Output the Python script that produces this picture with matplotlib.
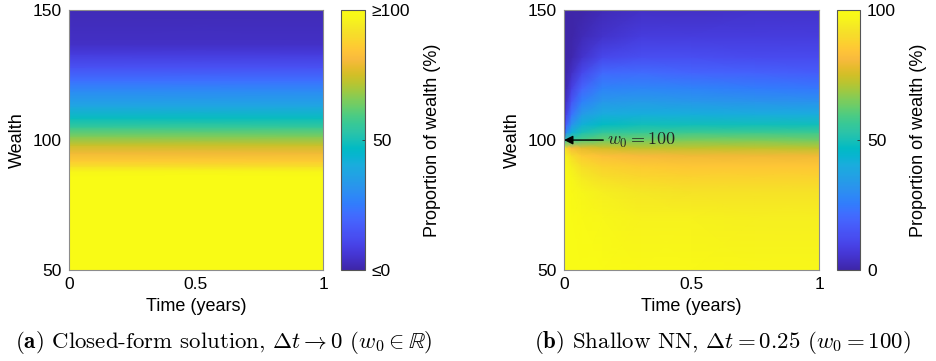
import numpy as np
import matplotlib
matplotlib.use('Agg')
import matplotlib.pyplot as plt
from matplotlib.colors import LinearSegmentedColormap

plt.rcParams['font.family'] = ['Liberation Sans', 'DejaVu Sans']
plt.rcParams['mathtext.fontset'] = 'cm'

# MATLAB parula colormap (subsampled)
parula_rgb = [
    (0.2422, 0.1504, 0.6603), (0.2578, 0.1818, 0.7511), (0.2706, 0.2147, 0.8364),
    (0.2783, 0.2559, 0.8991), (0.2813, 0.3006, 0.9414), (0.2795, 0.3447, 0.9717),
    (0.2699, 0.3892, 0.9906), (0.2440, 0.4358, 0.9988), (0.1963, 0.4847, 0.9892),
    (0.1786, 0.5289, 0.9682), (0.1687, 0.5703, 0.9359), (0.1460, 0.6091, 0.9079),
    (0.1248, 0.6459, 0.8883), (0.0952, 0.6798, 0.8598), (0.0297, 0.7082, 0.8163),
    (0.0067, 0.7312, 0.7660), (0.0964, 0.7500, 0.7120), (0.1717, 0.7670, 0.6554),
    (0.2161, 0.7843, 0.5923), (0.2906, 0.7973, 0.5188), (0.3909, 0.8029, 0.4354),
    (0.5044, 0.7993, 0.3480), (0.6174, 0.7876, 0.2612), (0.7242, 0.7698, 0.1910),
    (0.8203, 0.7498, 0.1535), (0.9035, 0.7330, 0.1774), (0.9728, 0.7298, 0.2394),
    (0.9970, 0.7659, 0.2199), (0.9892, 0.8136, 0.1885), (0.9676, 0.8639, 0.1643),
    (0.9597, 0.9135, 0.1423), (0.9691, 0.9606, 0.1064), (0.9769, 0.9839, 0.0805),
]
parula = LinearSegmentedColormap.from_list('parula', parula_rgb, N=256)

# (a) closed form: proportion depends on wealth only
wealth_a = [50, 86, 88, 90, 92, 95, 98, 101.5, 105, 108.5, 113, 119, 123, 128, 133, 137, 150]
prop_a = [100, 100, 97, 91, 86, 80, 74, 65, 56, 48, 38, 29, 22, 14, 8, 4, 2]
time_a = [0, 1]

# (b) shallow NN: proportion over (wealth, time)
time_b = [0, 0.01, 0.03, 0.07, 0.15, 0.3, 0.5, 0.75, 1.0]
wealth_b = [50, 70, 80, 86, 90, 94, 97, 100, 103, 106, 110, 115, 120, 126, 132, 140, 150]
prop_b = [
    [100, 100, 100, 100, 100, 99, 99, 98, 98],     # 50
    [100, 100, 100, 99, 98, 96, 96, 95, 95],       # 70
    [100, 100, 99, 97, 95, 93, 92, 92, 92],        # 80
    [100, 99, 97, 94, 91, 89, 88, 88, 88],         # 86
    [100, 98, 95, 91, 88, 86, 85, 85, 85],         # 90
    [100, 95, 91, 86, 83, 81, 80, 80, 80],         # 94
    [100, 88, 82, 78, 75, 73, 73, 73, 72],         # 97
    [50, 55, 57, 60, 63, 64, 65, 65, 64],          # 100
    [0, 30, 42, 50, 55, 56, 57, 57, 57],           # 103
    [0, 18, 32, 42, 47, 49, 49, 49, 49],           # 106
    [0, 10, 23, 34, 40, 41, 41, 40, 40],           # 110
    [0, 5, 15, 26, 33, 34, 33, 32, 31],            # 115
    [0, 2, 9, 19, 27, 28, 27, 25, 24],             # 120
    [0, 1, 4, 11, 20, 21, 19, 18, 17],             # 126
    [0, 0, 1, 5, 11, 13, 13, 12, 12],              # 132
    [0, 0, 0, 2, 5, 8, 8, 8, 8],                   # 140
    [0, 0, 0, 0, 2, 4, 4, 5, 5],                   # 150
]

fig = plt.figure(figsize=(9.36, 3.61), dpi=100)

panels = [
    dict(ax=[0.0737, 0.252, 0.2714, 0.720], cax=[0.3643, 0.252, 0.0256, 0.720],
         t=time_a, w=wealth_a, z=np.tile(np.array(prop_a)[:, None], (1, 2)),
         cticks=['\u2264' + '0', '50', '\u2265' + '100'],
         caption=r'$\mathbf{(a)}$ Closed-form solution, $\Delta t \rightarrow 0$ $(w_0 \in \mathbb{R})$',
         cx=224 / 936),
    dict(ax=[0.6026, 0.252, 0.2724, 0.720], cax=[0.8942, 0.252, 0.0246, 0.720],
         t=time_b, w=wealth_b, z=np.array(prop_b, dtype=float),
         cticks=['0', '50', '100'],
         caption=r'$\mathbf{(b)}$ Shallow NN, $\Delta t = 0.25$ $(w_0 = 100)$',
         cx=722 / 936),
]

for i, p in enumerate(panels):
    ax = fig.add_axes(p['ax'])
    mesh = ax.pcolormesh(p['t'], p['w'], p['z'], cmap=parula, vmin=0, vmax=100,
                         shading='gouraud', rasterized=True)
    ax.set_xlim(0, 1)
    ax.set_ylim(50, 150)
    ax.set_xticks([0, 0.5, 1])
    ax.set_xticklabels(['0', '0.5', '1'])
    ax.set_yticks([50, 100, 150])
    ax.tick_params(length=0, labelsize=12.5, pad=5)
    for s in ax.spines.values():
        s.set_color('#8c8c8c')
        s.set_linewidth(0.8)
    ax.set_xlabel('Time (years)', fontsize=13, labelpad=4)
    ax.set_ylabel('Wealth', fontsize=13, labelpad=5)

    cax = fig.add_axes(p['cax'])
    cb = fig.colorbar(mesh, cax=cax)
    cb.set_ticks([0, 50, 100])
    cb.set_ticklabels(p['cticks'])
    cax.tick_params(direction='in', length=2.5, width=0.6, labelsize=12.5, pad=5, color='#333333')
    cb.outline.set_edgecolor('#555555')
    cb.outline.set_linewidth(0.8)
    cb.set_label('Proportion of wealth (%)', fontsize=13, labelpad=10)

    fig.text(p['cx'], 0.052, p['caption'], ha='center', va='center',
             fontsize=16.5, family='cmr10')

    if i == 1:
        ax.annotate(r'$w_0 = 100$', xy=(0.0, 100), xytext=(0.17, 100),
                    fontsize=13, va='center', ha='left', color='#222222',
                    arrowprops=dict(arrowstyle='-|>', color='black', lw=1.0,
                                    mutation_scale=13, shrinkA=1, shrinkB=0))

plt.savefig('out.png', dpi=100)
